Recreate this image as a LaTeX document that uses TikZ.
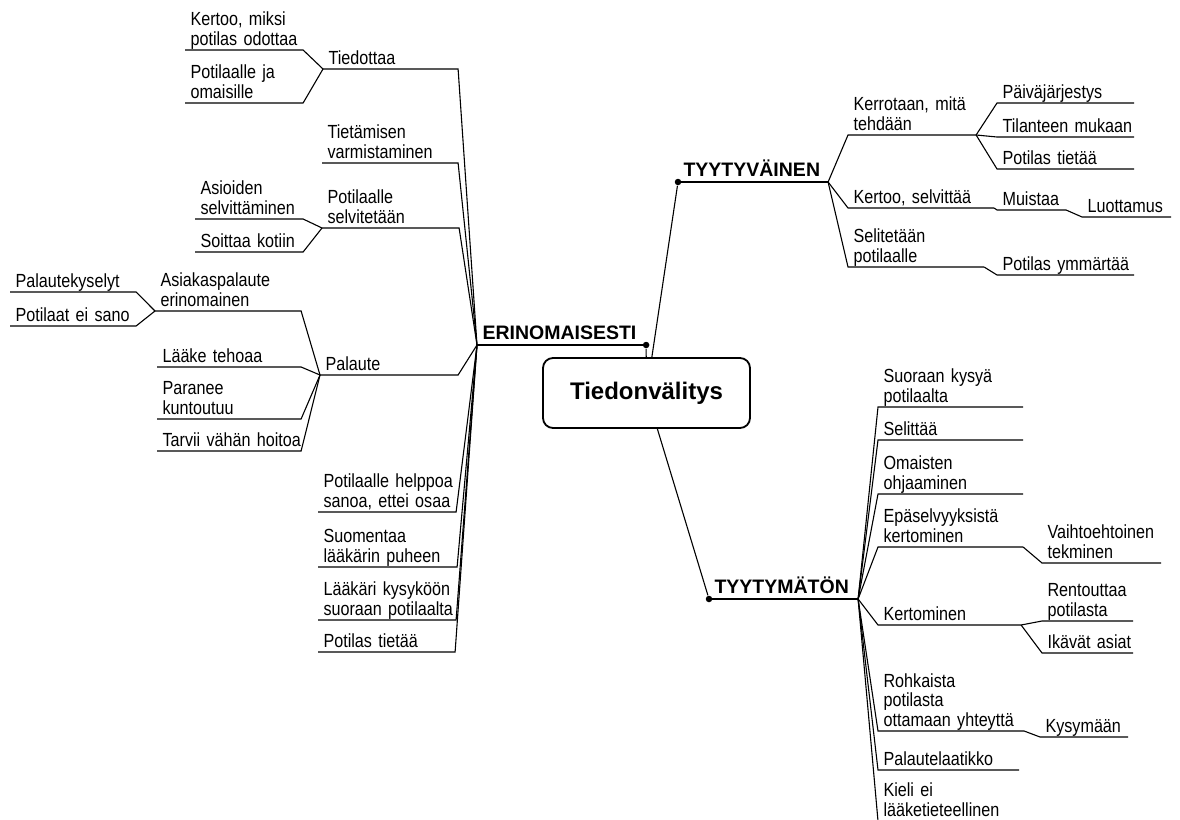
\documentclass[tikz,border=0pt]{standalone}
\usepackage{fontspec}
\setmainfont{Liberation Sans}
\newfontfamily\topicfont{Liberation Sans}[FakeStretch=0.85]

% topic node: the node spans its underline from x0 to x1, text sits on it
\newcommand\mmnode[6][topic]{%
  \pgfmathsetmacro\mmw{#4-#3-10}%
  \node[#1, text width=\mmw pt] (#2) at (#3,#5) {#6};}

\begin{document}
\begin{tikzpicture}[x=1pt, y=-1pt, line width=1.1pt,
  topic/.style={anchor=south west, inner xsep=5pt, inner ysep=0pt, align=left,
    font=\topicfont\fontsize{19}{19.5}\selectfont,
    execute at begin node={\hyphenpenalty=10000\exhyphenpenalty=10000},
    execute at end node={\rule[-4pt]{0pt}{4pt}}},
  branch/.style={topic, font=\bfseries\fontsize{19.5}{22}\selectfont,
    execute at end node={\rule[-5pt]{0pt}{5pt}}},
  rootbox/.style={draw, line width=1.8pt, rounded corners=10pt,
    minimum width=207pt, minimum height=70pt, inner sep=0pt,
    font=\bfseries\fontsize{24}{28}\selectfont},
  dot/.style={circle, fill=black, inner sep=0pt, minimum size=6.5pt},
  link/.style={draw, line width=1.1pt}]

\useasboundingbox (0,0) rectangle (1180,819);
\fill[white] (0,0) rectangle (1180,819);

% centre
\node[rootbox] (root) at (646.5,393) {Tiedonvälitys};

% main branches
\mmnode[branch]{er}{477}{645}{345}{ERINOMAISESTI}
\mmnode[branch]{tyv}{678}{827}{182}{TYYTYVÄINEN}
\mmnode[branch]{tym}{709}{857}{599}{TYYTYMÄTÖN}
\node[dot] (erdot) at (er.south east) {};
\node[dot] (tyvdot) at (tyv.south west) {};
\node[dot] (tymdot) at (tym.south west) {};
\draw[link] (er.south west) -- (er.south east);
\draw[link] (tyv.south west) -- (tyv.south east);
\draw[link] (tym.south west) -- (tym.south east);
\draw[link] (root) -- (erdot);
\draw[link] (root) -- (tyvdot);
\draw[link] (root) -- (tymdot);

% ERINOMAISESTI
\mmnode{tied}{323}{457}{69}{Tiedottaa}
\mmnode{t1}{185}{302}{50}{Kertoo,~miksi\\potilas~odottaa}
\mmnode{t2}{185}{302}{103}{Potilaalle~ja\\omaisille}
\mmnode{tiet}{322}{457}{163}{Tietämisen\\varmistaminen}
\mmnode{psel}{322}{458}{228}{Potilaalle\\selvitetään}
\mmnode{p1}{195}{302}{219}{Asioiden\\selvittäminen}
\mmnode{p2}{195}{302}{252}{Soittaa~kotiin}
\mmnode{pal}{320}{457}{375}{Palaute}
\mmnode{asia}{155}{300}{311}{Asiakaspalaute\\erinomainen}
\mmnode{a1}{10}{135}{292}{Palautekyselyt}
\mmnode{a2}{10}{135}{326}{Potilaat~ei~sano}
\mmnode{l1}{157}{300}{367}{Lääke~tehoaa}
\mmnode{l2}{157}{300}{419}{Paranee\\kuntoutuu}
\mmnode{l3}{157}{300}{451}{Tarvii~vähän~hoitoa}
\mmnode{h1}{318}{455}{512}{Potilaalle~helppoa\\sanoa,~ettei~osaa}
\mmnode{h2}{318}{456}{567}{Suomentaa\\lääkärin~puheen}
\mmnode{h3}{318}{455}{620}{Lääkäri~kysyköön\\suoraan~potilaalta}
\mmnode{h4}{318}{454}{652}{Potilas~tietää}

\foreach \c in {tied,tiet,psel,pal,h1,h2,h3,h4}
  \draw[link] (\c.south west) -- (\c.south east) -- (er.south west);
\foreach \c in {t1,t2}
  \draw[link] (\c.south west) -- (\c.south east) -- (tied.south west);
\foreach \c in {p1,p2}
  \draw[link] (\c.south west) -- (\c.south east) -- (psel.south west);
\foreach \c in {asia,l1,l2,l3}
  \draw[link] (\c.south west) -- (\c.south east) -- (pal.south west);
\foreach \c in {a1,a2}
  \draw[link] (\c.south west) -- (\c.south east) -- (asia.south west);

% TYYTYVÄINEN
\mmnode{ker}{848}{975}{135}{Kerrotaan,~mitä\\tehdään}
\mmnode{k1}{997}{1133}{103}{Päiväjärjestys}
\mmnode{k2}{997}{1133}{137}{Tilanteen~mukaan}
\mmnode{k3}{997}{1133}{169}{Potilas~tietää}
\mmnode{kse}{848}{993}{208}{Kertoo,~selvittää}
\mmnode{mui}{997}{1065}{210}{Muistaa}
\mmnode{luo}{1082}{1170}{217}{Luottamus}
\mmnode{sel}{848}{983}{267}{Selitetään\\potilaalle}
\mmnode{pym}{997}{1133}{275}{Potilas~ymmärtää}

\foreach \c in {ker,kse,sel}
  \draw[link] (tyv.south east) -- (\c.south west) -- (\c.south east);
\foreach \c in {k1,k2,k3}
  \draw[link] (ker.south east) -- (\c.south west) -- (\c.south east);
\draw[link] (kse.south east) -- (mui.south west) -- (mui.south east);
\draw[link] (mui.south east) -- (luo.south west) -- (luo.south east);
\draw[link] (sel.south east) -- (pym.south west) -- (pym.south east);

% TYYTYMÄTÖN
\mmnode{s1}{878}{1022}{407}{Suoraan~kysyä\\potilaalta}
\mmnode{s2}{878}{1022}{440}{Selittää}
\mmnode{s3}{878}{1022}{494}{Omaisten\\ohjaaminen}
\mmnode{s4}{878}{1022}{547}{Epäselvyyksistä\\kertominen}
\mmnode{vt}{1042}{1160}{563}{Vaihtoehtoinen\\tekminen}
\mmnode{s5}{878}{1020}{625}{Kertominen}
\mmnode{r1}{1042}{1132}{621}{Rentouttaa\\potilasta}
\mmnode{r2}{1042}{1132}{653}{Ikävät~asiat}
\mmnode{s6}{878}{1023}{731}{Rohkaista\\potilasta\\ottamaan~yhteyttä}
\mmnode{kys}{1040}{1127}{737}{Kysymään}
\mmnode{s7}{878}{1018}{770}{Palautelaatikko}
\mmnode{s8}{878}{1020}{821}{Kieli~ei\\lääketieteellinen}

\foreach \c in {s1,s2,s3,s4,s5,s6,s7,s8}
  \draw[link] (tym.south east) -- (\c.south west) -- (\c.south east);
\draw[link] (s4.south east) -- (vt.south west) -- (vt.south east);
\foreach \c in {r1,r2}
  \draw[link] (s5.south east) -- (\c.south west) -- (\c.south east);
\draw[link] (s6.south east) -- (kys.south west) -- (kys.south east);

\end{tikzpicture}
\end{document}
